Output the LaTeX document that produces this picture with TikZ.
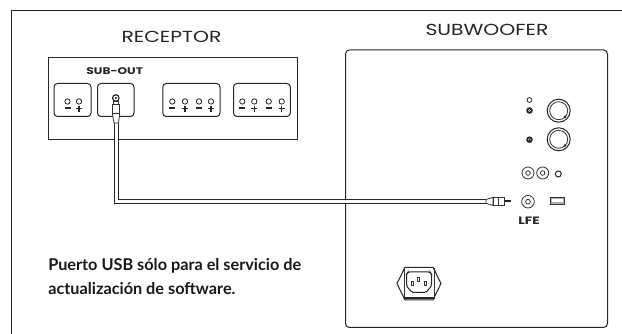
\documentclass[tikz,border=0pt]{standalone}
\usepackage{fontspec}
\setmainfont{Lato}
\newfontfamily\widefont[FakeStretch=1.27]{Poppins}
\tikzset{x=0.75pt,y=-0.75pt,
 ln/.style={draw=black!85,line width=0.75pt},
 thin ln/.style={draw=black!80,line width=0.6pt},
 title/.style={font=\widefont\fontsize{12}{14}\selectfont,text=black!85,inner sep=0pt},
 small/.style={font=\widefont\fontsize{7.2}{8}\selectfont\bfseries,text=black!85,inner sep=0pt},
 lfestyle/.style={font=\widefont\fontsize{8}{9}\selectfont\bfseries,text=black!85,inner sep=0pt},
 note/.style={font=\fontsize{12.2}{18}\selectfont\bfseries,text=black!90,inner sep=0pt,align=left,anchor=north west},
 panel/.style={ln,rounded corners=2.6pt},
 hole/.style={circle,draw=black!85,line width=0.6pt,minimum size=4pt,inner sep=0pt},
}
\newcommand{\term}[2]{% x, sign
 \node[hole] at (#1,101.5) {};
 \ifnum#2=0 \fill[black!85] (#1-3,107.4) rectangle (#1+3,109.2);
 \else \fill[black!85] (#1-3,108) rectangle (#1+3,109.3); \fill[black!85] (#1-0.7,105.6) rectangle (#1+0.7,112); \fi}
\newcommand{\rca}[3]{% x,y,outer radius
 \draw[thin ln] (#1,#2) circle (#3);
 \draw[thin ln] (#1,#2) circle (#3*0.38);}
\begin{document}
\begin{tikzpicture}
\useasboundingbox (0,0) rectangle (622,334);
\fill[white] (0,0) rectangle (622,334);
\draw[ln] (11.5,334) -- (11.5,10.5) -- (622,10.5);
% receptor
\node[title] (rtitle) at (171.5,37) {RECEPTOR};
\draw[ln] (48.5,57.5) rectangle (297.5,139.5);
\node[small] (sub) at (114.7,70.7) {SUB-OUT};
\draw[panel] (54,83.5) rectangle (91,116.5);
\draw[panel] (97.5,83.5) rectangle (134,116.5);
\draw[panel] (162.8,83.5) rectangle (220,116.5);
\draw[panel] (233.5,83.5) rectangle (290.3,116.5);
\term{67.5}{0}\term{79}{1}
\term{172.3}{0}\term{185}{1}\term{199}{0}\term{211}{1}
\term{242.3}{0}\term{254.3}{1}\term{268.7}{0}\term{281.7}{1}
% subwoofer
\node[title] (stitle) at (487,30) {SUBWOOFER};
\draw[ln,rounded corners=3pt] (345.5,50) rectangle (607.5,327.5);
% knobs
\node[hole,minimum size=3.6pt] at (529.5,100) {};
\foreach \y in {110.5,139.7}{
 \fill[black!85] (529.5,\y) circle (3.3);
 \fill[white] (529.5,\y) circle (1.4);
 \fill[black!85] (529,\y-0.9) rectangle (530,\y+0.9);
}
\foreach \y in {110.7,139.3}{
 \draw[ln] (558.7,\y) circle (11.5);
 \draw[thin ln] (558.7,\y) circle (9);
 \fill[black!85] (565,\y+6.2) circle (1.4);
}
\rca{528}{173}{6}
\rca{542.7}{173}{6}
\draw[ln] (558.3,174) circle (3);
\rca{528}{201.7}{6.3}
\draw[thin ln,fill=black!30] (550.3,197.3) rectangle (564.7,204);
\fill[white] (552.3,199.3) rectangle (562.7,201.8);
\node[lfestyle] (lfe) at (529,221) {LFE};
% IEC socket
\draw[ln] (405,267.3) -- (433,267.3) -- (441,283.5) -- (433,300) -- (405,300) -- (397,283.5) -- cycle;
\draw[thin ln] (404,268) -- (404,299.5) (434,268) -- (434,299.5);
\draw[black!85,line width=1.2pt] (404,298) -- (434,298);
\draw[ln,rounded corners=1.2pt] (408,272) -- (430,272) -- (431.5,274) -- (431.5,286) -- (426,292.5) -- (412,292.5) -- (406.5,286) -- (406.5,274) -- cycle;
\foreach \a/\b in {412/281,418.7/277,425/281}{\draw[thin ln] (\a-1,\b) rectangle (\a+1,\b+4);}
% note
\node[note] (note) at (48,258.5) {Puerto USB sólo para el servicio de\\actualización de software.};
% cable
\coordinate (ca) at (116.3,122);
\coordinate (cb) at (116.3,201.4);
\coordinate (cc) at (487,201.4);
\draw[black!85,line width=3.6pt,line join=miter] (ca) -- (cb) -- (cc);
\draw[white,line width=2pt] (ca) -- (cb) -- (cc);
% jack top
\draw[thin ln,fill=white] (112.3,104) rectangle (119.7,113.5);
\draw[thin ln,fill=white] (112.3,113.5) -- (119.7,113.5) -- (118.5,123) -- (114,123) -- cycle;
\fill[black!85] (115.8,98) circle (3.9);
\fill[white] (115.8,98) circle (2.5);
\fill[black!85] (115.8,98) circle (1.2);
\draw[thin ln,fill=white] (113.3,101.5) rectangle (118.3,104);
% rca plug
\draw[thin ln,fill=white] (486,199.5) -- (493,197.3) -- (493,205.5) -- (486,203.3) -- cycle;
\draw[thin ln,fill=white] (493,197.3) rectangle (504,205.5);
\draw[thin ln] (498,197.3) -- (498,205.5);
\fill[black!85] (504,200.4) rectangle (511,202.4);
\end{tikzpicture}
\end{document}
